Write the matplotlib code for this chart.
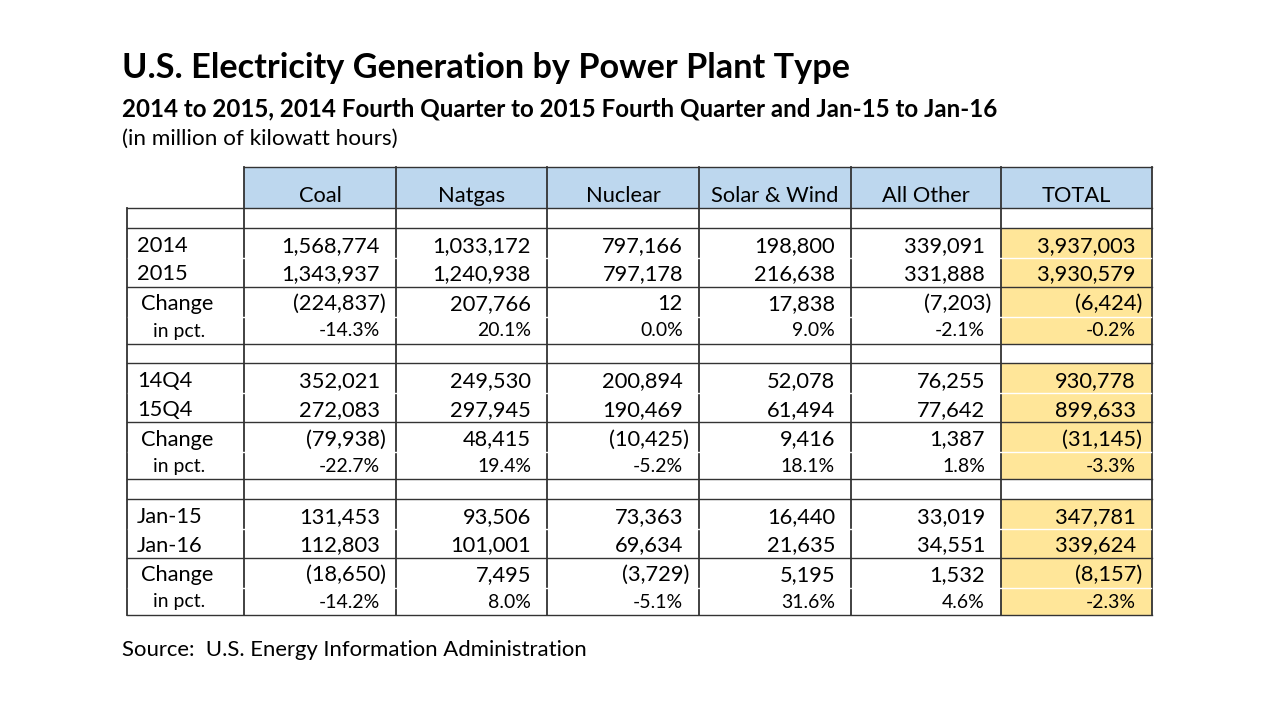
import matplotlib
matplotlib.use("Agg")
import matplotlib.pyplot as plt
from matplotlib.patches import Rectangle

# ---------------- data ----------------
columns = ["Coal", "Natgas", "Nuclear", "Solar & Wind", "All Other", "TOTAL"]

sec1_labels = ["2014", "2015"]
sec1_a = [1568774, 1033172, 797166, 198800, 339091, 3937003]
sec1_b = [1343937, 1240938, 797178, 216638, 331888, 3930579]
sec1_chg = [-224837, 207766, 12, 17838, -7203, -6424]
sec1_pct = [-14.3, 20.1, 0.0, 9.0, -2.1, -0.2]

sec2_labels = ["14Q4", "15Q4"]
sec2_a = [352021, 249530, 200894, 52078, 76255, 930778]
sec2_b = [272083, 297945, 190469, 61494, 77642, 899633]
sec2_chg = [-79938, 48415, -10425, 9416, 1387, -31145]
sec2_pct = [-22.7, 19.4, -5.2, 18.1, 1.8, -3.3]

sec3_labels = ["Jan-15", "Jan-16"]
sec3_a = [131453, 93506, 73363, 16440, 33019, 347781]
sec3_b = [112803, 101001, 69634, 21635, 34551, 339624]
sec3_chg = [-18650, 7495, -3729, 5195, 1532, -8157]
sec3_pct = [-14.2, 8.0, -5.1, 31.6, 4.6, -2.3]

title = "U.S. Electricity Generation by Power Plant Type"
subtitle = "2014 to 2015, 2014 Fourth Quarter to 2015 Fourth Quarter and Jan-15 to Jan-16"
units = "(in million of kilowatt hours)"
source = "Source:  U.S. Energy Information Administration"

sections = [
    (sec1_labels, sec1_a, sec1_b, sec1_chg, sec1_pct),
    (sec2_labels, sec2_a, sec2_b, sec2_chg, sec2_pct),
    (sec3_labels, sec3_a, sec3_b, sec3_chg, sec3_pct),
]

# ---------------- layout ----------------
FONT = "Lato"
col_edges = [127, 244, 396, 547, 699, 851, 1001, 1152]
header_top, header_bot = 167, 208
blank_h = 19.5
row_h = [30, 29, 30, 27]
baseline_off = {"a": 5.5, "b": 6, "chg": 6.5, "pct": 7}
HDR_BLUE = "#BDD7EE"
TOT_GOLD = "#FFE699"
LINE = "#333333"

fig = plt.figure(figsize=(12.8, 7.2), dpi=100)
ax = fig.add_axes([0, 0, 1, 1])
ax.set_xlim(0, 1280)
ax.set_ylim(720, 0)
ax.axis("off")
renderer = fig.canvas.get_renderer()


def fit(t, target_w):
    for _ in range(3):
        w = t.get_window_extent(renderer).width
        t.set_fontsize(t.get_fontsize() * target_w / w)


def fmt_num(v):
    return f"{v:,}"


def fmt_chg(v):
    return f"({abs(v):,})" if v < 0 else f"{v:,}"


def fmt_pct(v):
    return f"{v:.1f}%"


# titles
t1 = ax.text(122, 78, title, fontsize=22, fontweight="bold", family=FONT,
             va="baseline", ha="left", color="black")
fit(t1, 729)
t2 = ax.text(122, 116, subtitle, fontsize=16, fontweight="bold", family=FONT,
             va="baseline", ha="left", color="black")
fit(t2, 876)
t3 = ax.text(122, 145, units, fontsize=14, family=FONT,
             va="baseline", ha="left", color="black")
fit(t3, 275)
t4 = ax.text(122, 656, source, fontsize=14, family=FONT,
             va="baseline", ha="left", color="black")
fit(t4, 467)

# table font sizes (slightly larger than width-fit to match the taller digits)
probe = ax.text(0, -100, "1,568,774", fontsize=14, family=FONT)
fit(probe, 93)
FS = probe.get_fontsize() * 1.06
probe.remove()
probe = ax.text(0, -100, "-14.3%", fontsize=11, family=FONT)
fit(probe, 58)
FS_S = probe.get_fontsize() * 1.05
probe.remove()

# row boundaries
rows = []  # (top, bottom, kind, section index)
y = header_bot
rows.append((y, y + blank_h, "blank", None))
y += blank_h
for si in range(len(sections)):
    kinds = ["a", "b", "chg", "pct"]
    for k, h in zip(kinds, row_h):
        rows.append((y, y + h, k, si))
        y += h
    if si < len(sections) - 1:
        rows.append((y, y + blank_h, "blank", None))
        y += blank_h
table_bot = y

# fills
ax.add_patch(Rectangle((col_edges[1], header_top), col_edges[-1] - col_edges[1],
                       header_bot - header_top, facecolor=HDR_BLUE, edgecolor="none", zorder=1))
for top, bot, kind, si in rows:
    if kind != "blank":
        ax.add_patch(Rectangle((col_edges[-2], top), col_edges[-1] - col_edges[-2],
                               bot - top, facecolor=TOT_GOLD, edgecolor="none", zorder=1))

# header text
for i, c in enumerate(columns):
    xc = (col_edges[i + 1] + col_edges[i + 2]) / 2
    ax.text(xc, header_bot - 6, c, fontsize=FS, family=FONT,
            ha="center", va="baseline", zorder=5)

# body text
for top, bot, kind, si in rows:
    if kind == "blank":
        continue
    labels, a, b, chg, pct = sections[si]
    yb = bot - baseline_off[kind]
    if kind == "a":
        lab, vals, fs, pad, lx = labels[0], [fmt_num(v) for v in a], FS, 16, 137
    elif kind == "b":
        lab, vals, fs, pad, lx = labels[1], [fmt_num(v) for v in b], FS, 16, 137
    elif kind == "chg":
        lab, vals, fs, pad, lx = "Change", [fmt_chg(v) for v in chg], FS, 10, 141
    else:
        lab, vals, fs, pad, lx = "in pct.", [fmt_pct(v) for v in pct], FS_S, 16, 153
    ax.text(lx, yb, lab, fontsize=fs, family=FONT, ha="left", va="baseline", zorder=5)
    for i, s in enumerate(vals):
        p = pad
        if kind == "chg" and not s.startswith("("):
            p = pad + 6
        ax.text(col_edges[i + 2] - p, yb, s, fontsize=fs, family=FONT,
                ha="right", va="baseline", zorder=5)

# horizontal lines
lw_h = 1.0
ax.plot([col_edges[1], col_edges[-1]], [header_top, header_top], color=LINE, lw=lw_h, zorder=3)
ax.plot([col_edges[0], col_edges[-1]], [header_bot, header_bot], color=LINE, lw=lw_h, zorder=3)
for top, bot, kind, si in rows:
    if kind in ("blank", "b", "pct"):
        ax.plot([col_edges[0], col_edges[-1]], [bot, bot], color=LINE, lw=lw_h, zorder=3)

# vertical lines
lw_v = 1.3
ax.plot([col_edges[0], col_edges[0]], [header_bot, table_bot], color=LINE, lw=lw_v, zorder=3)
for x in col_edges[1:]:
    ax.plot([x, x], [header_top, table_bot], color=LINE, lw=lw_v, zorder=3)

# white inner borders (between value rows and between change/pct rows)
for top, bot, kind, si in rows:
    if kind in ("a", "chg"):
        ax.plot([col_edges[0] + 1, col_edges[-1] - 1], [bot, bot], color="white", lw=1.0, zorder=4)

fig.savefig("out.png", dpi=100)
